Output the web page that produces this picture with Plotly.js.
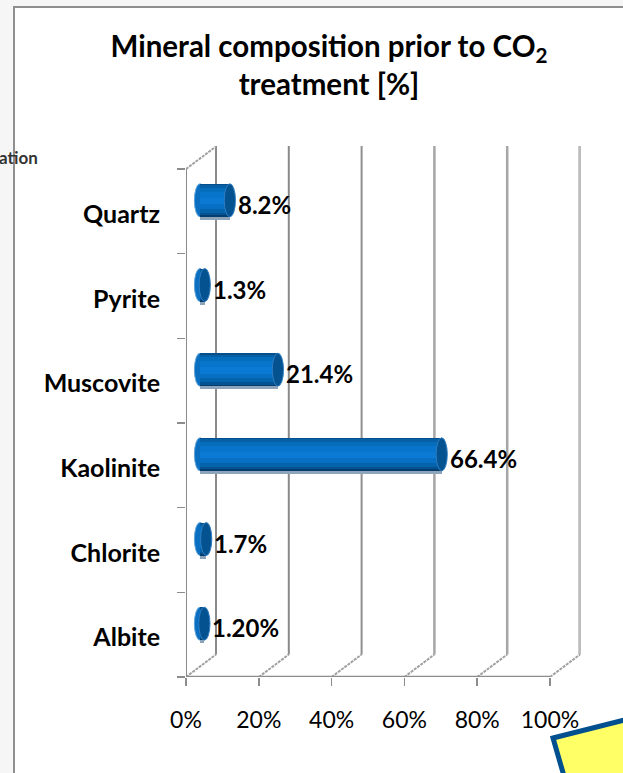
<!DOCTYPE html>
<html><head><meta charset="utf-8">
<script src="https://cdn.plot.ly/plotly-3.0.0.min.js"></script>
<style>html,body{margin:0;padding:0;background:#f6f6f6}</style></head>
<body><div id="c" style="width:623px;height:773px"></div>
<script>
var categories = ['Albite','Chlorite','Kaolinite','Muscovite','Pyrite','Quartz'];
var values = [1.2,1.7,66.4,21.4,1.3,8.2];
var valueLabels = ['1.20%','1.7%','66.4%','21.4%','1.3%','8.2%'];
var xTicks = [0,20,40,60,80,100];
var xTickLabels = ['0%','20%','40%','60%','80%','100%'];
var bandStops = [0,0.05,0.12,0.24,0.42,0.62,0.76,0.88,0.95];
var bandColors = ['#064f8a','#0560a6','#066cbc','#0875cc','#0a7ad4','#0770c4','#0563ac','#045291','#033e6e'];
var gridColors = ['#8a8a8a','#8a8a8a','#8f8f8f','#a6a6a6','#a6a6a6','#bcbcbc'];
var gridWidths = [2,2,2,2.5,2.5,3.5];

var W=623,H=773, L=186, R=581, T=146, B=677;
var unitX=(550-186)/100, unitY=(677-169)/6;
var dxBack=30/unitX, dyBack=22.5/unitY;
var xMax=(R-L)/unitX, yTop=-0.5+(B-T)/unitY;
var barBase=14/unitX, barShift=11/unitY, labelShift=7/unitY;
var barH=33/unitY, capRx=5.6/unitX, capRy=barH/2;
var grey='#8c8c8c';
var barBottom=barShift-barH/2;

var traces=[];
traces.push({type:'bar',orientation:'h',y:categories,x:values,base:barBase,width:barH+3/unitY,
  offset:barBottom-3/unitY,marker:{color:'#8ea4bb',line:{width:0}},hoverinfo:'skip',showlegend:false});
bandStops.forEach(function(s,i){
  var w=barH*(1-s);
  traces.push({type:'bar',orientation:'h',y:categories,x:values,base:barBase,width:w,
    offset:barBottom,marker:{color:bandColors[i],line:{width:0}},hoverinfo:'skip',showlegend:false});
});

var shapes=[];
function px(x){return (x-L)/(R-L);} function py(y){return (B-y)/(B-T);}
shapes.push({type:'rect',xref:'paper',yref:'paper',x0:px(14),x1:px(640),y0:py(800),y1:py(7),
  fillcolor:'#fff',line:{color:'#8f8f8f',width:2},layer:'below'});
xTicks.forEach(function(t,i){
  shapes.push({type:'line',xref:'x',yref:'y',x0:t+dxBack,x1:t+dxBack,y0:-0.5+dyBack,y1:yTop,
    line:{color:gridColors[i],width:gridWidths[i]},layer:'below'});
  shapes.push({type:'line',xref:'x',yref:'y',x0:t,x1:t+dxBack,y0:-0.5,y1:-0.5+dyBack,
    line:{color:'#a0a0a0',width:2,dash:'3px,1px'},layer:'below'});
});
shapes.push({type:'line',xref:'x',yref:'y',x0:0,x1:dxBack,y0:5.5,y1:5.5+dyBack,
  line:{color:'#a0a0a0',width:2,dash:'3px,1px'},layer:'below'});
values.forEach(function(v,i){
  var yc=i+barShift;
  shapes.push({type:'circle',xref:'x',yref:'y',x0:barBase-capRx,x1:barBase+capRx,y0:yc-capRy,y1:yc+capRy,
    fillcolor:'#0a6fc0',line:{color:'#5fa3da',width:1},layer:'below'});
  shapes.push({type:'circle',xref:'x',yref:'y',x0:barBase+v-capRx,x1:barBase+v+capRx,y0:yc-capRy,y1:yc+capRy,
    fillcolor:'#04528f',line:{color:'#2f7cc0',width:1}});
});
shapes.push({type:'path',xref:'paper',yref:'paper',
  path:'M '+px(553)+' '+py(738)+' L '+px(640)+' '+py(716)+' L '+px(640)+' '+py(790)+' L '+px(568)+' '+py(790)+' Z',
  fillcolor:'#ffff66',line:{color:'#00508f',width:5}});
shapes.push({type:'line',xref:'x',yref:'y',x0:0,x1:100,y0:-0.5,y1:-0.5,line:{color:grey,width:2.5}});
shapes.push({type:'line',xref:'x',yref:'y',x0:0,x1:0,y0:-0.5,y1:5.5,line:{color:grey,width:2}});

var annotations=[{xref:'paper',yref:'paper',x:px(40),y:py(157),xanchor:'right',yanchor:'middle',showarrow:false,
  text:'ation',font:{family:'Lato',size:17,color:'#333',weight:700}}];
values.forEach(function(v,i){
  annotations.push({xref:'x',yref:'y',x:v+barBase+1.9,y:i+labelShift,xanchor:'left',yanchor:'middle',showarrow:false,
    text:valueLabels[i],align:'left',borderpad:0,font:{family:'Lato',size:24,color:'#000',weight:700}});
});

var layout={
  width:W,height:H,autosize:false,showlegend:false,bargap:0,barmode:'overlay',
  paper_bgcolor:'#f6f6f6',plot_bgcolor:'rgba(0,0,0,0)',
  margin:{l:L,r:W-R,t:T,b:H-B,pad:0},
  title:{text:'Mineral composition prior to CO<sub>2</sub><br>treatment [%]',
    font:{family:'Lato',size:29.5,color:'#000',weight:700},x:329/W,xanchor:'center',y:1-57/H,yanchor:'middle'},
  xaxis:{range:[0,xMax],tickmode:'array',tickvals:xTicks,ticktext:xTickLabels,ticks:'outside',ticklen:8,tickwidth:1.5,
    tickcolor:grey,showgrid:false,zeroline:false,showline:false,tickfont:{family:'Lato',size:23,color:'#000'},
    ticklabelstandoff:14,fixedrange:true},
  yaxis:{type:'category',categoryorder:'array',categoryarray:categories,range:[-0.5,yTop],tickson:'boundaries',
    ticks:'outside',ticklen:8,tickwidth:1.5,tickcolor:grey,showgrid:false,zeroline:false,showline:false,
    tickfont:{family:'Lato',size:25,color:'#000',weight:700},ticklabelstandoff:25,ticklabelshift:3,fixedrange:true},
  shapes:shapes,annotations:annotations
};
Plotly.newPlot('c',traces,layout,{displayModeBar:false,staticPlot:true});
</script></body></html>
